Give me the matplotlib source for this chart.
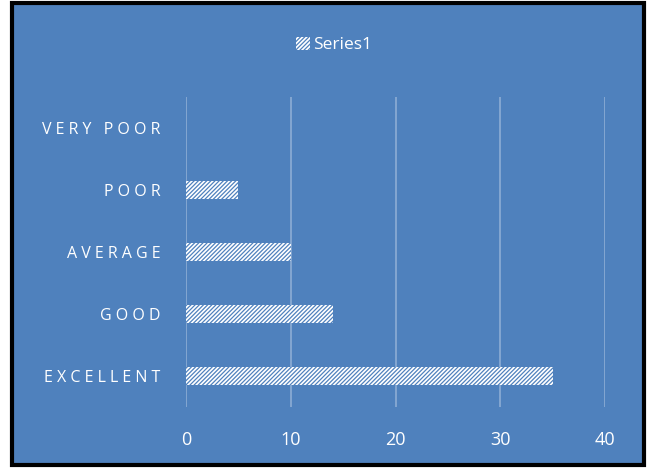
import matplotlib.pyplot as plt
from matplotlib.patches import Rectangle, Patch

plt.rcParams['font.family'] = ['Open Sans', 'DejaVu Sans']
plt.rcParams['hatch.color'] = '#4F81BD'
plt.rcParams['hatch.linewidth'] = 0.9

# data
categories = ['EXCELLENT', 'GOOD', 'AVERAGE', 'POOR', 'VERY POOR']
values = [35, 14, 10, 5, 0]
series_name = 'Series1'
xticks = [0, 10, 20, 30, 40]

blue = '#4F81BD'

fig = plt.figure(figsize=(6.47, 4.70), dpi=100)
fig.patch.set_facecolor('white')
# chart area with black border
bg = Rectangle((12 / 647, 5 / 470), 632 / 647, 462 / 470,
               transform=fig.transFigure, facecolor=blue,
               edgecolor='black', linewidth=3, zorder=-5)
fig.add_artist(bg)

ax = fig.add_axes([186 / 647, 63 / 470, 419 / 647, 310 / 470])
ax.set_zorder(1)
ax.patch.set_alpha(0)

y = range(len(categories))
ax.barh(y, values, height=0.28, color='white', edgecolor=blue,
        hatch='////////', linewidth=0, zorder=3)

ax.set_xlim(0, 40)
ax.set_ylim(-0.5, len(categories) - 0.5)
ax.set_xticks(xticks)
ax.set_xticklabels([str(t) for t in xticks], color='white', fontsize=13)
ax.set_yticks(list(y))
ax.set_yticklabels([' '.join(c) for c in categories], color='white', fontsize=11.5)
ax.tick_params(axis='both', length=0)
ax.tick_params(axis='x', pad=17)
ax.tick_params(axis='y', pad=18.5)
ax.grid(axis='x', color='white', alpha=0.35, linewidth=1.2)
ax.set_axisbelow(True)
for s in ax.spines.values():
    s.set_visible(False)

leg_handle = Patch(facecolor='white', edgecolor=blue, hatch='////////', linewidth=0)
leg = fig.legend([leg_handle], [series_name], loc='center', bbox_to_anchor=(334 / 647, 1 - 45 / 470),
                 frameon=False, fontsize=12.5, handlelength=0.8, handleheight=0.8,
                 handletextpad=0.2)
for t in leg.get_texts():
    t.set_color('white')

fig.savefig('out.png', dpi=100)
